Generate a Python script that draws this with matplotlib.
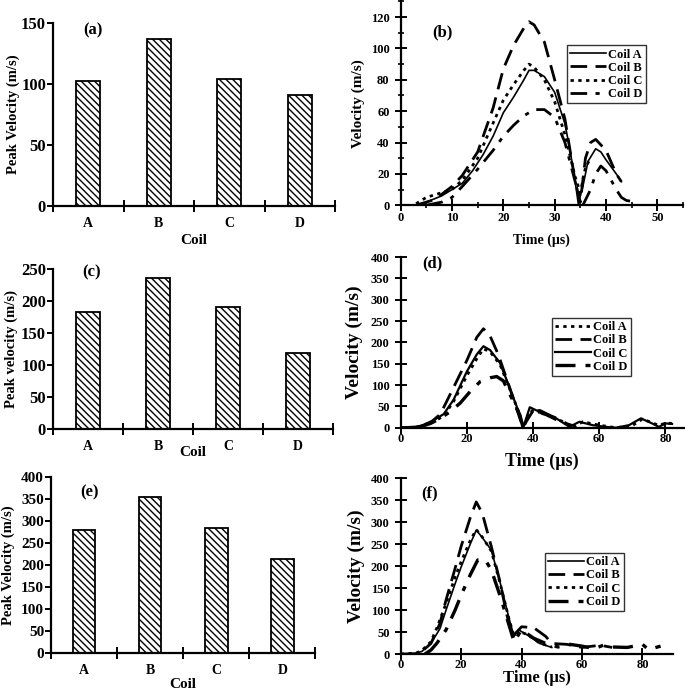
import numpy as np
import matplotlib
matplotlib.use("Agg")
import matplotlib.pyplot as plt
from matplotlib.ticker import MultipleLocator, FixedLocator

plt.rcParams['font.family'] = ['Liberation Serif', 'DejaVu Serif']
plt.rcParams['font.weight'] = 'bold'
plt.rcParams['hatch.linewidth'] = 1.0

# Peak velocities (bar charts)
coils = ['A', 'B', 'C', 'D']
peak_a = [102, 137, 104, 91]
peak_c = [183, 235, 190, 119]
peak_e = [280, 353, 283, 214]

# Panel (b): velocity vs time
b_A_t = [3, 5, 8, 10, 12, 14, 16, 18, 20, 22, 24, 25, 26, 28, 30, 32, 33, 34, 34.6, 35.5, 36.5, 38, 39, 40, 42, 43]
b_A_v = [0, 2, 6, 10, 14, 22, 32, 44, 59, 69, 80, 86, 86, 82, 72, 52, 35, 15, 1, 12, 28, 36, 34, 29, 20, 15]
b_B_t = [3, 6, 8, 10, 12, 15, 18, 20, 22, 24, 25, 26, 28, 30, 32, 33, 34, 35, 36, 37, 38, 40, 42, 43]
b_B_v = [0, 3, 7, 12, 19, 34, 62, 87, 102, 113, 117, 115, 104, 80, 55, 35, 15, 2, 30, 40, 42, 35, 20, 15]
b_C_t = [3, 5, 8, 10, 12, 15, 17, 20, 22, 24, 25, 26, 28, 30, 32, 34, 35, 36, 37]
b_C_v = [1, 5, 8, 10, 16, 30, 45, 67, 77, 86, 90, 88, 80, 66, 45, 18, 8, 24, 30]
b_D_t = [5, 8, 10, 12, 15, 18, 20, 22, 24, 26, 28, 30, 32, 34, 35.5, 37, 38, 39, 40, 42, 43, 44, 46]
b_D_v = [0, 2, 5, 12, 23, 35, 44, 51, 57, 61, 61, 56, 40, 15, 0, 10, 20, 25, 22, 10, 5, 3, 2]

# Panel (d)
d_A_t = [0, 4, 7, 10, 13, 16, 20, 23, 25, 27, 30, 33, 36, 37, 39, 42, 46, 50, 52, 55, 60, 65, 70, 73, 76, 78, 80, 82]
d_A_v = [0, 0, 6, 14, 28, 62, 122, 162, 185, 178, 148, 90, 30, 0, 40, 36, 26, 10, 0, 14, 6, 0, 5, 20, 12, 5, 11, 10]
d_B_t = [0, 5, 9, 12, 16, 20, 23, 25, 27, 29, 30, 33, 36, 37, 38, 40, 44, 48, 52]
d_B_v = [0, 2, 12, 32, 95, 158, 212, 232, 215, 180, 160, 92, 22, 0, 15, 40, 30, 15, 5]
d_C_t = [0, 4, 7, 10, 13, 16, 20, 23, 25, 27, 30, 33, 36, 37, 39, 42, 47, 51, 54, 58, 62, 65, 69, 72.6, 76, 78, 80, 82]
d_C_v = [0, 0, 7, 18, 32, 66, 132, 172, 191, 182, 152, 92, 30, 0, 48, 37, 22, 2, 14, 6, 2, 0, 6, 22, 10, 2, 10, 9]
d_D_t = [5, 9, 12, 15, 18, 21, 24, 27, 29, 31, 33, 36, 37, 39, 42, 46, 50]
d_D_v = [0, 10, 22, 38, 58, 85, 108, 117, 120, 110, 78, 30, 0, 35, 40, 25, 10]

# Panel (f)
f_A_t = [0, 5, 7, 10, 13, 15, 18, 20, 23, 25, 27, 30, 33, 36, 37.5, 39, 42, 46, 50]
f_A_v = [0, 2, 6, 24, 58, 100, 160, 198, 250, 282, 265, 236, 160, 77, 40, 55, 43, 24, 15]
f_B_t = [0, 6, 10, 13, 15, 18, 20, 23, 25, 27, 30, 33, 35, 37, 40, 44, 48, 50, 55, 60, 66, 70]
f_B_v = [0, 0, 24, 70, 123, 195, 245, 310, 346, 320, 244, 160, 92, 40, 62, 60, 40, 24, 22, 15, 20, 15]
f_C_t = [0, 5, 7, 10, 12, 15, 18, 20, 23, 25, 27, 30, 33, 36, 37.5, 39, 42, 46, 50]
f_C_v = [0, 2, 8, 28, 60, 115, 175, 210, 258, 283, 266, 234, 158, 75, 42, 52, 44, 25, 16]
f_D_t = [8, 10, 12, 15, 18, 20, 23, 25.5, 28, 30, 33, 35, 37.5, 40, 44, 48, 52, 56, 60, 64, 67, 70, 75, 80, 82, 86]
f_D_v = [0, 9, 25, 55, 100, 134, 180, 214, 214, 191, 130, 85, 28, 55, 36, 24, 16, 22, 18, 12, 20, 16, 15, 22, 10, 18]

fig = plt.figure(figsize=(6.85, 6.91), dpi=100)

DASHED = (0, (6, 3))
DOTTED = (0, (1.2, 1.6))
DASHDOT = (0, (6, 3, 1.5, 3))


def style_axes(ax):
    for s in ['top', 'right']:
        ax.spines[s].set_visible(False)
    for s in ['left', 'bottom']:
        ax.spines[s].set_linewidth(1.6)
    for lab in ax.get_xticklabels(which='both') + ax.get_yticklabels():
        lab.set_fontweight('bold')


def bar_panel(rect, vals, ymax, ytick_fs, ylabel, ylab_x, tag, tag_xy, xlabel_pad):
    ax = fig.add_axes(rect)
    x = np.arange(len(coils))
    ax.bar(x, vals, width=0.34, color='white', edgecolor='black',
           linewidth=1.3, hatch='\\\\\\\\\\')
    ax.set_xlim(-0.5, len(coils) - 0.5)
    ax.set_ylim(0, ymax)
    ax.yaxis.set_major_locator(MultipleLocator(50))
    ax.xaxis.set_major_locator(FixedLocator(np.arange(-0.5, len(coils), 1.0)))
    ax.xaxis.set_major_formatter(plt.NullFormatter())
    ax.set_xticks(x, coils, minor=True)
    ax.tick_params(axis='x', which='major', direction='inout', length=9, width=1.4)
    ax.tick_params(axis='x', which='minor', length=0, labelsize=10, pad=8)
    ax.tick_params(axis='y', direction='out', length=4, width=1.4, labelsize=ytick_fs, pad=1)
    ax.set_ylabel(ylabel, fontsize=10.5, fontweight='bold')
    ax.yaxis.set_label_coords(ylab_x, 0.5)
    ax.set_xlabel('Coil', fontsize=11, fontweight='bold', labelpad=xlabel_pad)
    ax.text(tag_xy[0], tag_xy[1], tag, transform=ax.transAxes, fontsize=12,
            fontweight='bold', ha='left', va='center')
    style_axes(ax)
    return ax


def line_panel(rect, series, xmax, xminor, ymax, ystep, yminor, ylab_fs, ylab_x,
               xlab_fs, xlabel_pad, xtick_pad, tag, tag_xy, legend_pos):
    ax = fig.add_axes(rect)
    for t, v, ls, lw, label in series:
        ax.plot(t, v, color='black', linestyle=ls, linewidth=lw, label=label)
    ax.set_xlim(0, xmax)
    ax.set_ylim(0, ymax)
    ax.xaxis.set_major_locator(MultipleLocator(10 if xminor else 20))
    ax.yaxis.set_major_locator(MultipleLocator(ystep))
    if xminor:
        ax.xaxis.set_minor_locator(MultipleLocator(xminor))
    if yminor:
        ax.yaxis.set_minor_locator(MultipleLocator(yminor))
    ax.tick_params(axis='both', which='major', direction='inout', length=9, width=1.4,
                   labelsize=9)
    ax.tick_params(axis='x', which='major', pad=xtick_pad)
    ax.tick_params(axis='both', which='minor', direction='inout', length=5, width=1.2)
    ax.set_xlabel('Time (µs)', fontsize=xlab_fs, fontweight='bold', labelpad=xlabel_pad)
    ax.set_ylabel('Velocity (m/s)', fontsize=ylab_fs, fontweight='bold')
    ax.yaxis.set_label_coords(ylab_x, 0.5)
    ax.text(tag_xy[0], tag_xy[1], tag, transform=ax.transAxes, fontsize=12,
            fontweight='bold', ha='left', va='center')
    leg = ax.legend(loc='upper left', bbox_to_anchor=legend_pos, frameon=True, fancybox=False,
                    edgecolor='black', fontsize=9, handlelength=2.9, handletextpad=0.15,
                    labelspacing=0.1, borderpad=0.25, borderaxespad=0)
    leg.get_frame().set_linewidth(1.0)
    for txt in leg.get_texts():
        txt.set_fontweight('bold')
    style_axes(ax)
    return ax


bar_panel([0.0774, 0.702, 0.412, 0.265], peak_a, 150, 12, 'Peak Velocity (m/s)', -0.117,
          '(a)', (0.106, 0.96), 3)
bar_panel([0.0774, 0.379, 0.409, 0.232], peak_c, 250, 12, 'Peak velocity (m/s)', -0.124,
          '(c)', (0.103, 0.975), -5)
bar_panel([0.0745, 0.055, 0.386, 0.255], peak_e, 400, 11, 'Peak Velocity (m/s)', -0.136,
          '(e)', (0.11, 0.91), 1)

line_panel([0.585, 0.703, 0.412, 0.295],
           [(b_A_t, b_A_v, '-', 1.2, 'Coil A'),
            (b_B_t, b_B_v, DASHED, 2.0, 'Coil B'),
            (b_C_t, b_C_v, DOTTED, 2.0, 'Coil C'),
            (b_D_t, b_D_v, DASHDOT, 2.0, 'Coil D')],
           55, 5, 130, 20, 10, 11, -0.128, 10, 7, 0.5,
           '(b)', (0.11, 0.85), (0.589, 0.784))
line_panel([0.585, 0.381, 0.413, 0.247],
           [(d_A_t, d_A_v, DOTTED, 2.0, 'Coil A'),
            (d_B_t, d_B_v, DASHED, 2.0, 'Coil B'),
            (d_C_t, d_C_v, '-', 1.6, 'Coil C'),
            (d_D_t, d_D_v, DASHDOT, 2.4, 'Coil D')],
           85.5, None, 400, 50, None, 14, -0.135, 13, 5.5, -1,
           '(d)', (0.075, 0.965), (0.535, 0.643))
line_panel([0.585, 0.0535, 0.397, 0.2545],
           [(f_A_t, f_A_v, '-', 1.2, 'Coil A'),
            (f_B_t, f_B_v, DASHED, 2.0, 'Coil B'),
            (f_C_t, f_C_v, DOTTED, 2.0, 'Coil C'),
            (f_D_t, f_D_v, DASHDOT, 2.4, 'Coil D')],
           90, None, 400, 50, None, 14, -0.132, 12, -0.5, -1,
           '(f)', (0.077, 0.915), (0.53, 0.574))

fig.savefig('out.png', dpi=100)
